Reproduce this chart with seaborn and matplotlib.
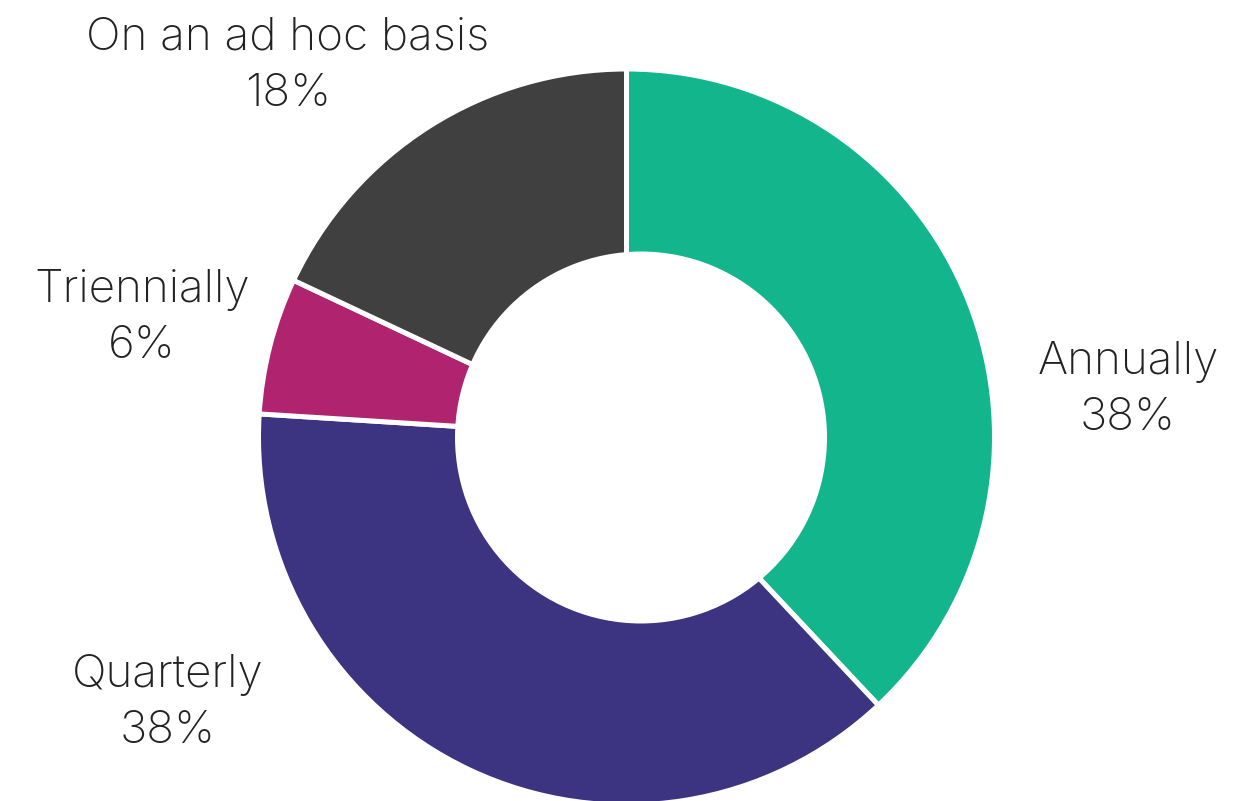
import matplotlib
matplotlib.use("Agg")
import matplotlib.pyplot as plt
from matplotlib.patches import Circle
import seaborn as sns

# Frequency of reviews: share of respondents
categories = ["Annually", "Quarterly", "Triennially", "On an ad hoc basis"]
shares = [38, 38, 6, 18]
colors = ["#13B68C", "#3C3480", "#B0236F", "#404040"]

sns.set_theme(style="white")
plt.rcParams["font.family"] = ["Inter", "DejaVu Sans"]

W, H = 1234, 801
fig = plt.figure(figsize=(W / 100, H / 100), dpi=100)
ax = fig.add_axes([0, 0, 1, 1])

cx, cy, r = 626.5, H - 437, 368
ax.pie(
    shares,
    colors=colors,
    startangle=90,
    counterclock=False,
    center=(cx, cy),
    radius=r,
    wedgeprops=dict(width=r - 160, edgecolor="white", linewidth=3.6),
    frame=True,
)
# donut hole
ax.add_patch(Circle((641, H - 437.5), 186, facecolor="white", edgecolor="none", zorder=5))

ax.set_xlim(0, W)
ax.set_ylim(0, H)
ax.set_aspect("equal")
ax.axis("off")

label_pos = {
    "Annually": (1128, 390),
    "Quarterly": (168, 703),
    "Triennially": (142, 318),
    "On an ad hoc basis": (288, 66),
}
for cat, val in zip(categories, shares):
    x, y = label_pos[cat]
    ax.text(x, H - y, f"{cat}\n{val}%", ha="center", va="center",
            fontsize=33, fontweight="light", color="#222222",
            linespacing=1.45)

fig.savefig("out.png", dpi=100, facecolor="white")
